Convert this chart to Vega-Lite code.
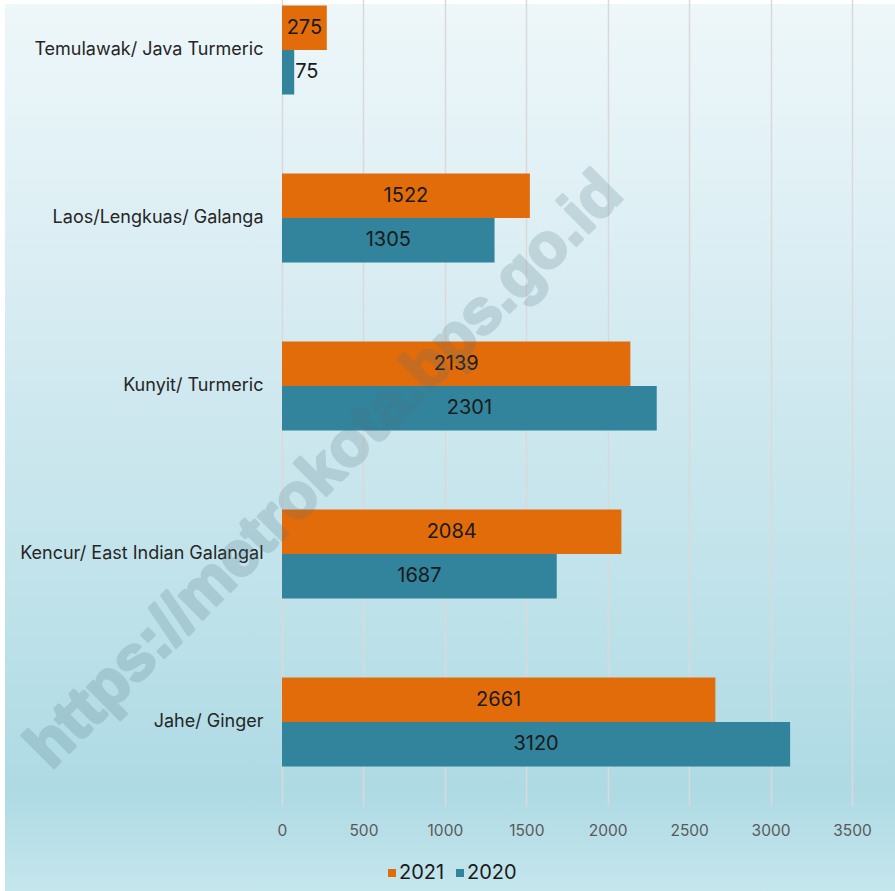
{
  "$schema": "https://vega.github.io/schema/vega-lite/v6.json",
  "width": 890,
  "height": 887,
  "autosize": {"type": "none"},
  "padding": {"left": 5, "top": 4, "right": 0, "bottom": 0},
  "background": "#ffffff",
  "view": {
    "stroke": null,
    "fill": {
      "gradient": "linear",
      "x1": 0, "y1": 0, "x2": 0, "y2": 1,
      "stops": [
        {"offset": 0, "color": "#eef7fa"},
        {"offset": 0.221, "color": "#dff0f5"},
        {"offset": 0.446, "color": "#cfe8ef"},
        {"offset": 0.672, "color": "#bfe2ea"},
        {"offset": 0.886, "color": "#aedae4"},
        {"offset": 1, "color": "#c5e6ed"}
      ]
    }
  },
  "config": {"font": "Inter"},
  "data": {
    "values": [
      {"crop": "Temulawak/ Java Turmeric", "year": "2021", "value": 275},
      {"crop": "Temulawak/ Java Turmeric", "year": "2020", "value": 75},
      {"crop": "Laos/Lengkuas/ Galanga", "year": "2021", "value": 1522},
      {"crop": "Laos/Lengkuas/ Galanga", "year": "2020", "value": 1305},
      {"crop": "Kunyit/ Turmeric", "year": "2021", "value": 2139},
      {"crop": "Kunyit/ Turmeric", "year": "2020", "value": 2301},
      {"crop": "Kencur/ East Indian Galangal", "year": "2021", "value": 2084},
      {"crop": "Kencur/ East Indian Galangal", "year": "2020", "value": 1687},
      {"crop": "Jahe/ Ginger", "year": "2021", "value": 2661},
      {"crop": "Jahe/ Ginger", "year": "2020", "value": 3120}
    ]
  },
  "encoding": {
    "y": {
      "field": "crop",
      "type": "nominal",
      "sort": ["Temulawak/ Java Turmeric", "Laos/Lengkuas/ Galanga", "Kunyit/ Turmeric", "Kencur/ East Indian Galangal", "Jahe/ Ginger"],
      "scale": {"range": [-38, 802], "paddingInner": 0.47, "paddingOuter": 0.235},
      "axis": {
        "title": null,
        "orient": "left",
        "offset": -277,
        "domain": false,
        "ticks": false,
        "grid": false,
        "labelPadding": 19,
        "labelLimit": 0,
        "labelFontSize": 18,
        "labelColor": "#262626",
        "labelFont": "Inter"
      }
    },
    "yOffset": {"field": "year", "type": "nominal", "sort": ["2021", "2020"]}
  },
  "layer": [
    {
      "mark": {"type": "bar", "clip": true},
      "encoding": {
        "x": {
          "field": "value",
          "type": "quantitative",
          "scale": {"domain": [0, 3500], "range": [277, 847], "nice": false},
          "axis": {
            "title": null,
            "orient": "top",
            "values": [0, 500, 1000, 1500, 2000, 2500, 3000, 3500],
            "domain": false,
            "ticks": false,
            "labels": false,
            "grid": true,
            "gridColor": "#d9d9d9",
            "gridWidth": 1.5
          }
        },
        "color": {
          "field": "year",
          "type": "nominal",
          "scale": {"domain": ["2021", "2020"], "range": ["#e36c0a", "#31849b"]},
          "legend": {
            "title": null,
            "orient": "none",
            "direction": "horizontal",
            "legendX": 377,
            "legendY": 859,
            "symbolType": "square",
            "symbolSize": 64,
            "symbolStrokeWidth": 0,
            "labelFontSize": 20,
            "labelColor": "#1a1a1a",
            "labelFont": "Inter",
            "labelOffset": -3,
            "columnPadding": 5,
            "padding": 0
          }
        }
      }
    },
    {
      "transform": [{"filter": "datum.value >= 100"}],
      "mark": {"type": "text", "fontSize": 20, "color": "#1a1a1a", "align": "center", "baseline": "middle"},
      "encoding": {
        "x": {
          "field": "value",
          "type": "quantitative",
          "scale": {"domain": [0, 7000], "range": [277, 847], "nice": false},
          "axis": null
        },
        "text": {"field": "value", "type": "quantitative"}
      }
    },
    {
      "transform": [{"filter": "datum.value < 100"}],
      "mark": {"type": "text", "fontSize": 20, "color": "#1a1a1a", "align": "left", "baseline": "middle", "dx": 1},
      "encoding": {
        "x": {
          "field": "value",
          "type": "quantitative",
          "scale": {"domain": [0, 3500], "range": [277, 847], "nice": false},
          "axis": {
            "title": null,
            "orient": "bottom",
            "offset": -85,
            "values": [0, 500, 1000, 1500, 2000, 2500, 3000, 3500],
            "format": "d",
            "domain": false,
            "ticks": false,
            "grid": false,
            "labelFlush": false,
            "labelPadding": 17,
            "labelFontSize": 15.5,
            "labelColor": "#595959",
            "labelFont": "Inter"
          }
        },
        "text": {"field": "value", "type": "quantitative"}
      }
    },
    {
      "data": {"values": [{"wm": "https://metrokota.bps.go.id"}]},
      "mark": {"type": "text", "font": "Liberation Sans", "fontWeight": "bold", "fontSize": 63, "angle": -45, "align": "center", "baseline": "middle", "dx": -159, "dy": 23, "color": "#50707c", "stroke": "#50707c", "strokeWidth": 3, "strokeJoin": "round", "opacity": 0.2},
      "encoding": {
        "x": {"datum": 853, "type": "quantitative", "scale": {"domain": [0, 3500], "range": [277, 847], "nice": false}, "axis": null},
        "y": {"datum": "Kunyit/ Turmeric", "type": "nominal"},
        "yOffset": {"value": 0},
        "text": {"field": "wm", "type": "nominal"}
      }
    }
  ],
  "resolve": {"scale": {"x": "independent"}}
}
